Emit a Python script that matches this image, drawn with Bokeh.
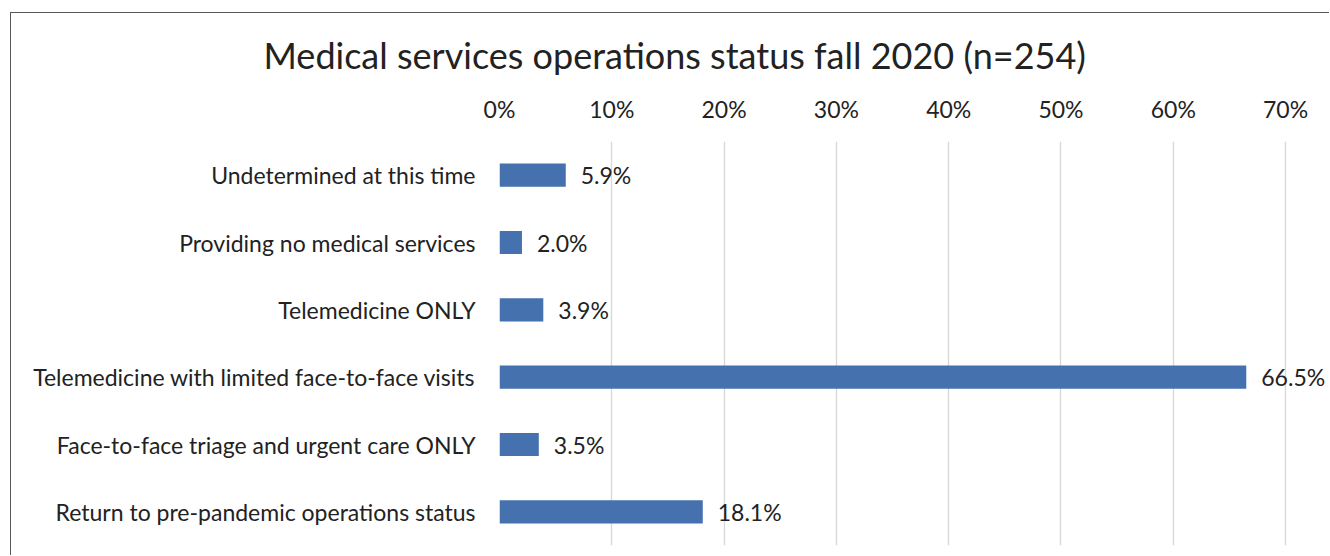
from bokeh.plotting import figure
from bokeh.models import ColumnDataSource, FactorRange, Range1d, FixedTicker, PrintfTickFormatter
from bokeh.core.properties import value
from bokeh.embed import file_html
from bokeh.resources import INLINE

title_text = "Medical services operations status fall 2020 (n=254)"
categories = [
    "Undetermined at this time",
    "Providing no medical services",
    "Telemedicine ONLY",
    "Telemedicine with limited face-to-face visits",
    "Face-to-face triage and urgent care ONLY",
    "Return to pre-pandemic operations status",
]
values = [5.9, 2.0, 3.9, 66.5, 3.5, 18.1]
value_labels = ["5.9%", "2.0%", "3.9%", "66.5%", "3.5%", "18.1%"]
x_ticks = [0, 10, 20, 30, 40, 50, 60, 70]

FONT = "Lato"
TXT = "#222222"
BAR = "#4571AF"
FS = "23px"

src = ColumnDataSource(dict(cat=categories, val=values, lab=value_labels))

W, H = 1319, 543
p = figure(
    width=W, height=H,
    y_range=FactorRange(*list(reversed(categories))),
    x_range=Range1d(0, 74.0),
    output_backend="svg", toolbar_location=None,
    x_axis_location="above",
    min_border_left=488, min_border_right=0, min_border_top=128, min_border_bottom=11,
)
p.styles = {"margin-left": "10px", "margin-top": "12px",
            "border-top": "1px solid #595959", "border-left": "1px solid #595959"}

p.title.text = title_text
p.title.text_font = FONT
p.title.text_font_size = "36px"
p.title.text_font_style = "normal"
p.title.text_color = TXT
p.title.align = "left"
p.title.offset = -236
p.title.standoff = 29

p.outline_line_color = None
p.background_fill_color = "white"
p.border_fill_color = "white"

p.hbar(y="cat", right="val", left=0, height=0.345, source=src, color=BAR, line_color=None)
p.text(x="val", y="cat", text="lab", source=src, x_offset=15,
       text_baseline="middle", text_align="left",
       text_font=value(FONT), text_font_size=value(FS), text_color=TXT)

xa = p.xaxis[0]
xa.ticker = FixedTicker(ticks=x_ticks)
xa.formatter = PrintfTickFormatter(format="%d%%")
xa.axis_line_color = None
xa.major_tick_line_color = None
xa.minor_tick_line_color = None
xa.major_label_text_font = FONT
xa.major_label_text_font_size = FS
xa.major_label_text_color = TXT
xa.major_label_standoff = 13

ya = p.yaxis[0]
ya.axis_line_color = None
ya.major_tick_line_color = None
ya.major_label_text_font = FONT
ya.major_label_text_font_size = FS
ya.major_label_text_color = TXT
ya.major_label_standoff = 18

p.xgrid.ticker = FixedTicker(ticks=x_ticks)
p.xgrid.grid_line_color = "#d9d9d9"
p.xgrid.grid_line_width = 1.4
p.ygrid.grid_line_color = None

open("out.html", "w").write(file_html(p, INLINE))
